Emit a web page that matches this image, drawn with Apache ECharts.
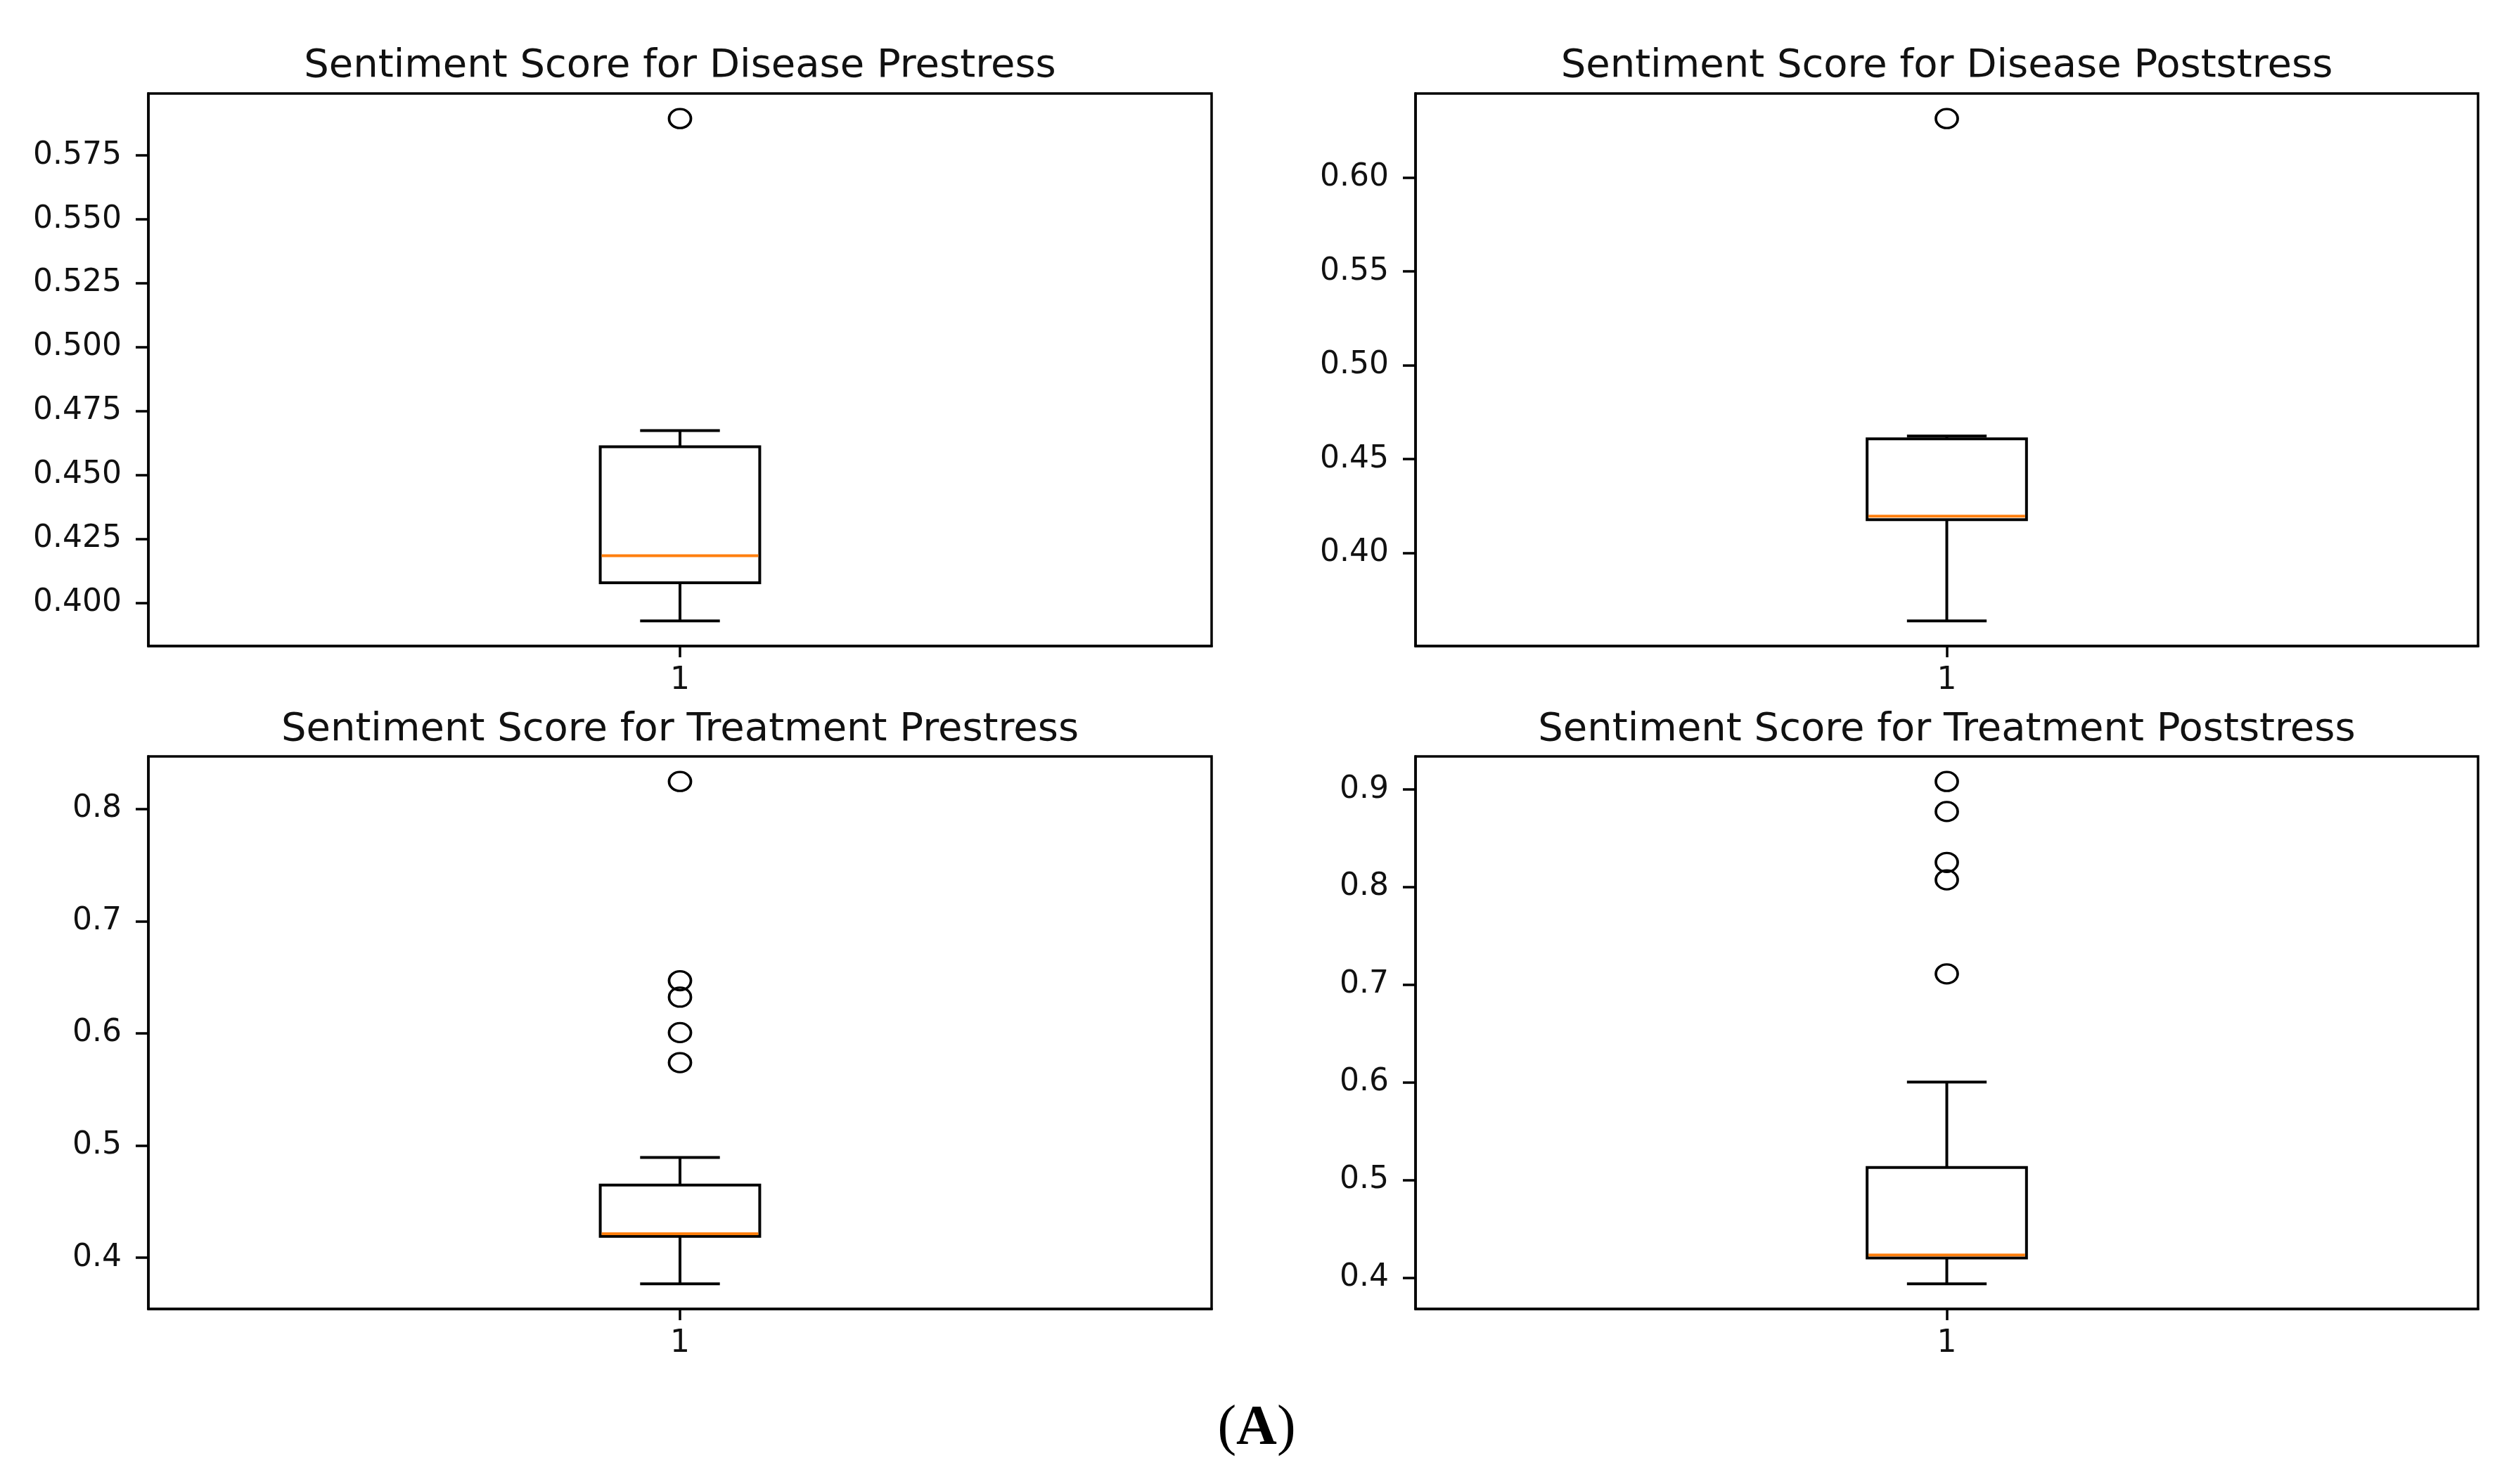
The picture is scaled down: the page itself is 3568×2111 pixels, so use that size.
<!DOCTYPE html>
<html>
<head>
<meta charset="utf-8">
<script src="https://cdn.jsdelivr.net/npm/echarts@6/dist/echarts.min.js"></script>
<style>
html,body{margin:0;padding:0;background:#fff;}
#chart{width:3568px;height:2111px;}
</style>
</head>
<body>
<div id="chart"></div>
<script>
// ---- data ----
const categories = ['1'];
const panelTitles = [
  'Sentiment Score for Disease Prestress',
  'Sentiment Score for Disease Poststress',
  'Sentiment Score for Treatment Prestress',
  'Sentiment Score for Treatment Poststress'
];
// [lower whisker, Q1, median, Q3, upper whisker]
const diseasePreBox = [0.3930, 0.4079, 0.4185, 0.4611, 0.4674];
const diseasePostBox = [0.3638, 0.4177, 0.4196, 0.4608, 0.4623];
const treatmentPreBox = [0.3768, 0.4191, 0.4215, 0.4649, 0.4894];
const treatmentPostBox = [0.3939, 0.4204, 0.4235, 0.5130, 0.6004];
// outliers (fliers)
const diseasePreOutliers = [0.5894];
const diseasePostOutliers = [0.6314];
const treatmentPreOutliers = [0.8245, 0.6470, 0.6323, 0.6007, 0.5740];
const treatmentPostOutliers = [0.9082, 0.8775, 0.8254, 0.8075, 0.7113];
// y tick values
const diseasePreTicks = [0.400, 0.425, 0.450, 0.475, 0.500, 0.525, 0.550, 0.575];
const diseasePostTicks = [0.40, 0.45, 0.50, 0.55, 0.60];
const treatmentPreTicks = [0.4, 0.5, 0.6, 0.7, 0.8];
const treatmentPostTicks = [0.4, 0.5, 0.6, 0.7, 0.8, 0.9];
const tickDecimals = [3, 2, 1, 1];
const figureLabel = 'A';

// ---- layout / style ----
const boxes = [diseasePreBox, diseasePostBox, treatmentPreBox, treatmentPostBox];
const outliers = [diseasePreOutliers, diseasePostOutliers, treatmentPreOutliers, treatmentPostOutliers];
const ticks = [diseasePreTicks, diseasePostTicks, treatmentPreTicks, treatmentPostTicks];
const grids = [
  {left: 211, top: 133, width: 1512, height: 786},
  {left: 2013, top: 133, width: 1511, height: 786},
  {left: 211, top: 1076, width: 1512, height: 786},
  {left: 2013, top: 1076, width: 1511, height: 786}
];
const FONT = 'DejaVu Sans';
const TICK_FS = 44;
const TITLE_FS = 56;
const FRAME_LW = 3.5;
const LW = 4;
const BOX_FRAC = 0.15;

function axisLimits(i) {
  const all = boxes[i].concat(outliers[i]);
  const lo = Math.min.apply(null, all), hi = Math.max.apply(null, all);
  const m = (hi - lo) * 0.05;
  return [lo - m, hi + m];
}

function renderBox(params, api) {
  const x = api.value(0);
  const pLo = api.coord([x, api.value(1)]);
  const pQ1 = api.coord([x, api.value(2)]);
  const pMed = api.coord([x, api.value(3)]);
  const pQ3 = api.coord([x, api.value(4)]);
  const pHi = api.coord([x, api.value(5)]);
  const bw = api.size([1, 0])[0] * BOX_FRAC;
  const cx = pLo[0];
  const black = {stroke: '#000', lineWidth: LW, fill: null};
  return {
    type: 'group',
    children: [
      {type: 'line', shape: {x1: cx, y1: pQ3[1], x2: cx, y2: pHi[1]}, style: black},
      {type: 'line', shape: {x1: cx, y1: pQ1[1], x2: cx, y2: pLo[1]}, style: black},
      {type: 'line', shape: {x1: cx - bw / 4, y1: pHi[1], x2: cx + bw / 4, y2: pHi[1]}, style: black},
      {type: 'line', shape: {x1: cx - bw / 4, y1: pLo[1], x2: cx + bw / 4, y2: pLo[1]}, style: black},
      {type: 'rect', shape: {x: cx - bw / 2, y: pQ3[1], width: bw, height: pQ1[1] - pQ3[1]},
        style: {stroke: '#000', lineWidth: LW, fill: 'rgba(0,0,0,0)'}},
      {type: 'line', shape: {x1: cx - bw / 2 + LW / 2, y1: pMed[1], x2: cx + bw / 2 - LW / 2, y2: pMed[1]},
        style: {stroke: '#ff7f0e', lineWidth: LW}}
    ]
  };
}

const option = {
  backgroundColor: '#fff',
  animation: false,
  title: [],
  grid: [],
  xAxis: [],
  yAxis: [],
  series: []
};

for (let i = 0; i < 4; i++) {
  const g = grids[i];
  const lim = axisLimits(i);
  option.grid.push(Object.assign({show: true, borderColor: '#000', borderWidth: FRAME_LW, backgroundColor: '#fff'}, g));
  option.title.push({
    text: panelTitles[i],
    left: g.left + g.width / 2,
    top: i < 2 ? 66 : 1010,
    textAlign: 'center',
    padding: 0,
    textStyle: {fontFamily: FONT, fontSize: TITLE_FS, fontWeight: 'normal', color: '#111'}
  });
  option.xAxis.push({
    type: 'category',
    gridIndex: i,
    data: categories,
    boundaryGap: true,
    axisLine: {show: true, lineStyle: {color: '#000', width: FRAME_LW}},
    axisTick: {show: true, alignWithLabel: true, length: 16, lineStyle: {color: '#000', width: FRAME_LW}},
    axisLabel: {show: true, margin: 28, fontFamily: FONT, fontSize: TICK_FS, color: '#111'},
    splitLine: {show: false}
  });
  const dec = tickDecimals[i];
  option.yAxis.push({
    type: 'value',
    gridIndex: i,
    min: lim[0],
    max: lim[1],
    axisLine: {show: true, lineStyle: {color: '#000', width: FRAME_LW}},
    axisTick: {show: true, length: 18, lineStyle: {color: '#000', width: FRAME_LW}, customValues: ticks[i]},
    axisLabel: {
      show: true, margin: 38, fontFamily: FONT, fontSize: TICK_FS, color: '#111',
      customValues: ticks[i],
      formatter: function (v) { return Number(v).toFixed(dec); }
    },
    splitLine: {show: false}
  });
  option.series.push({
    type: 'custom',
    name: panelTitles[i],
    xAxisIndex: i,
    yAxisIndex: i,
    renderItem: renderBox,
    encode: {x: 0, y: [1, 2, 3, 4, 5]},
    data: [[0].concat(boxes[i])],
    z: 3
  });
  option.series.push({
    type: 'scatter',
    name: panelTitles[i] + ' outliers',
    xAxisIndex: i,
    yAxisIndex: i,
    symbol: 'circle',
    symbolSize: [31, 27],
    itemStyle: {color: 'rgba(0,0,0,0)', borderColor: '#000', borderWidth: 3.5, opacity: 1},
    data: outliers[i].map(function (v) { return [0, v]; }),
    z: 4
  });
}

option.title.push({
  text: '{p|(}{b|' + figureLabel + '}{p|)}',
  left: 1787,
  top: 1993,
  textAlign: 'center',
  padding: 0,
  textStyle: {
    rich: {
      p: {fontFamily: 'Liberation Serif', fontSize: 80, fontWeight: 'normal', color: '#000'},
      b: {fontFamily: 'Liberation Serif', fontSize: 80, fontWeight: 'bold', color: '#000'}
    }
  }
});

const chart = echarts.init(document.getElementById('chart'), null, {renderer: 'canvas'});
chart.setOption(option);
</script>
</body>
</html>
